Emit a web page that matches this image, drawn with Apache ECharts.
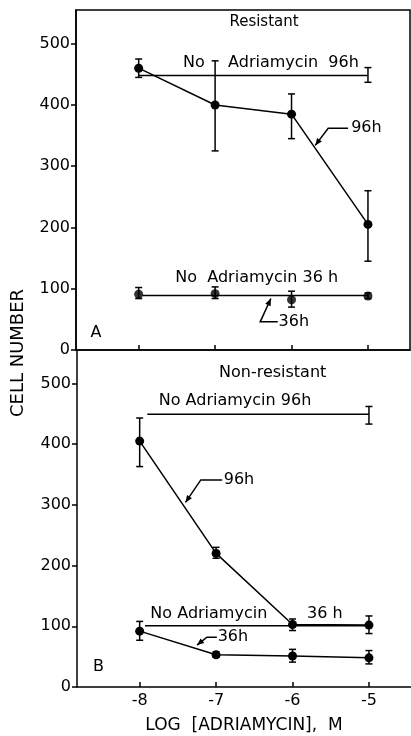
<!DOCTYPE html>
<html lang="en">
<head>
    <meta charset="UTF-8">
    <script src="https://cdn.jsdelivr.net/npm/echarts@6/dist/echarts.min.js"></script>
    <title>Cell number vs adriamycin</title>
</head>
<body>
    <style>
        html, body { margin: 0; background: #fff; }
        #main { width: 411px; height: 736px; }
    </style>
    <div id="main"></div>
    <script>
        // log concentrations
        var xVals = [-8, -7, -6, -5];
        var yTicks = [0, 100, 200, 300, 400, 500];

        // A: resistant
        var resDrug96 = [460, 400, 385, 205];
        var resDrug96Lo = [445, 325, 345, 145];
        var resDrug96Hi = [475, 472, 418, 260];
        var resDrug36 = [91, 92, 82, 88];
        var resDrug36Lo = [84, 84, 70, 84];
        var resDrug36Hi = [102, 103, 96, 93];
        var resCtrl96 = [[-8, 448], [-5, 448]];
        var resCtrl96Err = [[-5, 437, 461]];
        var resCtrl36 = [[-7.95, 89], [-5, 89]];

        // B: non-resistant
        var nonDrug96 = [405, 220, 103, 102];
        var nonDrug96Lo = [363, 212, 93, 88];
        var nonDrug96Hi = [443, 230, 112, 117];
        var nonDrug36 = [92, 53, 51, 48];
        var nonDrug36Lo = [77, 49, 41, 38];
        var nonDrug36Hi = [108, 58, 62, 60];
        var nonCtrl96 = [[-7.9, 449], [-5, 449]];
        var nonCtrl96Err = [[-5, 433, 462]];
        var nonCtrl36 = [[-7.93, 101], [-5, 101]];

        var FONT = '"DejaVu Sans", sans-serif';

        function pts(ys) {
            return xVals.map(function (x, i) { return [x, ys[i]]; });
        }
        function errs(lo, hi) {
            return xVals.map(function (x, i) { return [x, lo[i], hi[i]]; });
        }

        function errRender(params, api) {
            var x = api.value(0);
            var a = api.coord([x, api.value(1)]);
            var b = api.coord([x, api.value(2)]);
            var w = 3.5;
            var st = { stroke: '#000', lineWidth: 1.5 };
            return {
                type: 'group',
                children: [
                    { type: 'line', shape: { x1: a[0], y1: a[1], x2: b[0], y2: b[1] }, style: st },
                    { type: 'line', shape: { x1: a[0] - w, y1: a[1], x2: a[0] + w, y2: a[1] }, style: st },
                    { type: 'line', shape: { x1: b[0] - w, y1: b[1], x2: b[0] + w, y2: b[1] }, style: st }
                ]
            };
        }

        function lineSeries(data, gi, withSymbol) {
            return {
                type: 'line', xAxisIndex: gi, yAxisIndex: gi, data: data,
                symbol: withSymbol ? 'circle' : 'none', symbolSize: 9,
                itemStyle: { color: '#000' },
                lineStyle: { color: '#000', width: 1.5 },
                animation: false, silent: true, z: 3
            };
        }
        function dotSeries(data, gi) {
            return {
                type: 'scatter', xAxisIndex: gi, yAxisIndex: gi, data: data,
                symbol: 'circle', symbolSize: 9, itemStyle: { color: '#000' },
                animation: false, silent: true, z: 4
            };
        }
        function errSeries(data, gi) {
            return {
                type: 'custom', xAxisIndex: gi, yAxisIndex: gi, data: data,
                encode: { x: 0, y: [1, 2] }, renderItem: errRender,
                animation: false, silent: true, z: 5
            };
        }

        function xAxisOf(gi) {
            return {
                gridIndex: gi, type: 'value', min: -8.82, max: -4.45,
                splitLine: { show: false },
                axisLine: { show: true, onZero: false, lineStyle: { color: '#000', width: 1.5 } },
                axisTick: { show: true, inside: true, length: 5, customValues: xVals,
                    lineStyle: { color: '#000', width: 1.5 } },
                axisLabel: { show: gi === 1, customValues: xVals, color: '#000',
                    fontSize: 16, fontFamily: FONT, margin: 6 },
                name: gi === 1 ? 'LOG  [ADRIAMYCIN],  M' : '',
                nameLocation: 'middle', nameGap: 30,
                nameTextStyle: { color: '#000', fontSize: 17, fontFamily: FONT }
            };
        }
        function yAxisOf(gi) {
            return {
                gridIndex: gi, type: 'value', min: 0, max: 555,
                splitLine: { show: false },
                axisLine: { show: true, lineStyle: { color: '#000', width: 1.5 } },
                axisTick: { show: true, inside: false, length: 5, customValues: yTicks,
                    lineStyle: { color: '#000', width: 1.5 } },
                axisLabel: { customValues: yTicks, color: '#000', fontSize: 16,
                    fontFamily: FONT, margin: 6 }
            };
        }

        var chart = echarts.init(document.getElementById('main'));
        chart.setOption({
            backgroundColor: '#fff',
            animation: false,
            grid: [
                { left: 76, right: 1, top: 10, height: 340, show: true,
                  borderColor: '#000', borderWidth: 1.5, backgroundColor: 'transparent' },
                { left: 77, right: 0, top: 350, height: 337 }
            ],
            xAxis: [xAxisOf(0), xAxisOf(1)],
            yAxis: [yAxisOf(0), yAxisOf(1)],
            series: [
                lineSeries(resCtrl96, 0, false),
                errSeries(resCtrl96Err, 0),
                lineSeries(pts(resDrug96), 0, true),
                errSeries(errs(resDrug96Lo, resDrug96Hi), 0),
                lineSeries(resCtrl36, 0, false),
                dotSeries(pts(resDrug36), 0),
                errSeries(errs(resDrug36Lo, resDrug36Hi), 0),

                lineSeries(nonCtrl96, 1, false),
                errSeries(nonCtrl96Err, 1),
                lineSeries(pts(nonDrug96), 1, true),
                errSeries(errs(nonDrug96Lo, nonDrug96Hi), 1),
                lineSeries(nonCtrl36, 1, false),
                lineSeries(pts(nonDrug36), 1, true),
                errSeries(errs(nonDrug36Lo, nonDrug36Hi), 1)
            ]
        });

        // annotations, positioned in data coordinates of each panel
        var labelsA = [
            { t: 'Resistant', x: -6.36, y: 535, align: 'center', size: 15 },
            { t: 'No', x: -7.42, y: 469 },
            { t: 'Adriamycin  96h', x: -6.83, y: 469 },
            { t: '96h', x: -5.22, y: 362 },
            { t: 'No  Adriamycin 36 h', x: -7.52, y: 118 },
            { t: '36h', x: -6.17, y: 46 },
            { t: 'A', x: -8.56, y: 28, align: 'center' }
        ];
        var labelsB = [
            { t: 'Non-resistant', x: -6.26, y: 518, align: 'center' },
            { t: 'No Adriamycin 96h', x: -7.75, y: 472 },
            { t: '96h', x: -6.90, y: 341 },
            { t: 'No Adriamycin', x: -7.86, y: 121 },
            { t: '36 h', x: -5.81, y: 121 },
            { t: '36h', x: -6.98, y: 82 },
            { t: 'B', x: -8.54, y: 33, align: 'center' }
        ];
        var leadersA = [
            [[-5.26, 362], [-5.52, 362], [-5.69, 334]],
            [[-6.18, 46], [-6.41, 46], [-6.27, 84]]
        ];
        var leadersB = [
            [[-6.92, 341], [-7.20, 341], [-7.40, 304]],
            [[-6.99, 82], [-7.12, 82], [-7.25, 69]]
        ];

        var g = [];
        function addLabels(list, gi) {
            list.forEach(function (l) {
                var p = chart.convertToPixel({ gridIndex: gi }, [l.x, l.y]);
                g.push({
                    type: 'text', x: p[0], y: p[1], silent: true,
                    style: { text: l.t, fill: '#000', font: (l.size || 16) + 'px ' + FONT,
                        textAlign: l.align || 'left', textVerticalAlign: 'middle',
                        align: l.align || 'left', verticalAlign: 'middle' }
                });
            });
        }
        function addLeaders(list, gi) {
            list.forEach(function (path) {
                var pp = path.map(function (d) { return chart.convertToPixel({ gridIndex: gi }, d); });
                g.push({ type: 'polyline', shape: { points: pp }, silent: true,
                    style: { stroke: '#000', lineWidth: 1.5, fill: null } });
                var tip = pp[pp.length - 1], prev = pp[pp.length - 2];
                var ang = Math.atan2(tip[1] - prev[1], tip[0] - prev[0]);
                var L = 7, W = 3;
                var bx = tip[0] - L * Math.cos(ang), by = tip[1] - L * Math.sin(ang);
                g.push({ type: 'polygon', silent: true,
                    shape: { points: [tip,
                        [bx + W * Math.sin(ang), by - W * Math.cos(ang)],
                        [bx - W * Math.sin(ang), by + W * Math.cos(ang)]] },
                    style: { fill: '#000' } });
            });
        }
        addLabels(labelsA, 0);
        addLabels(labelsB, 1);
        addLeaders(leadersA, 0);
        addLeaders(leadersB, 1);
        g.push({
            type: 'text', x: 18, y: 353, rotation: Math.PI / 2, silent: true,
            style: { text: 'CELL NUMBER', fill: '#000', font: '18px ' + FONT,
                textAlign: 'center', textVerticalAlign: 'middle',
                align: 'center', verticalAlign: 'middle' }
        });
        chart.setOption({ graphic: g });
    </script>
</body>
</html>
